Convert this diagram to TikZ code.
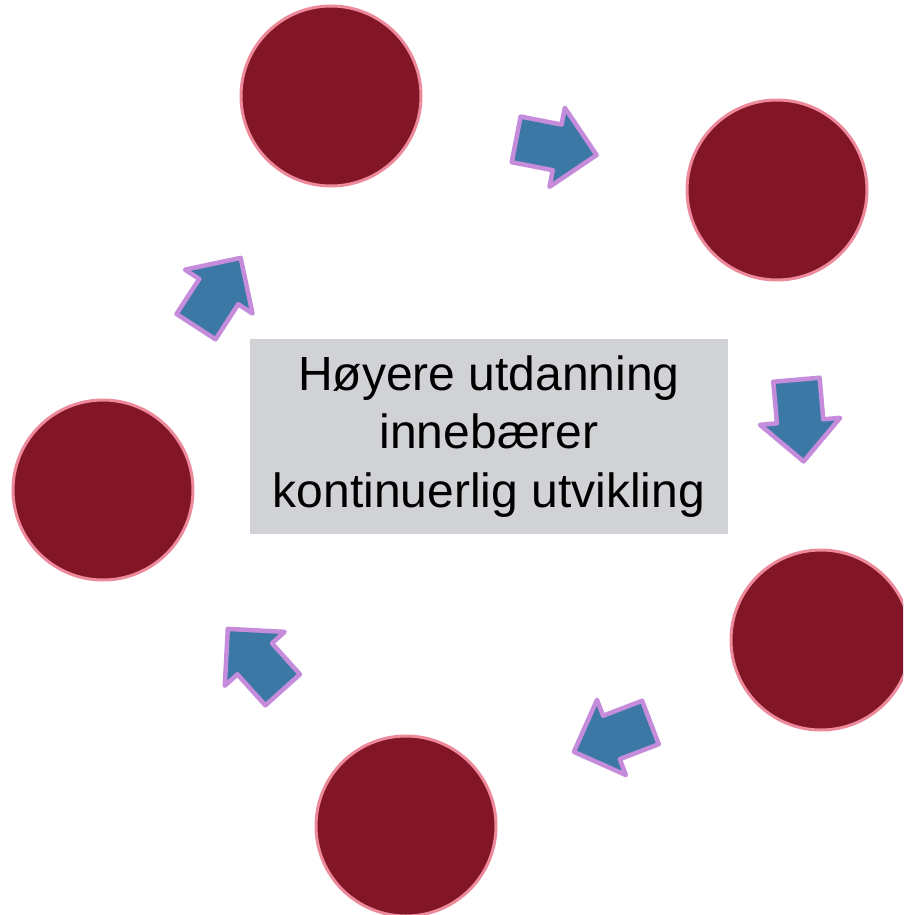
\documentclass[tikz,border=0pt]{standalone}
\usepackage{fontspec}
\setmainfont{Liberation Sans}
\usetikzlibrary{shapes.arrows}
\definecolor{stagered}{RGB}{131,22,38}
\definecolor{stagerim}{RGB}{236,138,155}
\definecolor{turnblue}{RGB}{60,120,165}
\definecolor{turnrim}{RGB}{198,140,220}
\definecolor{boxgray}{RGB}{209,210,214}
\tikzset{
  stage/.style={circle,fill=stagered,draw=stagerim,line width=3pt,
    inner sep=0pt,minimum size=180pt},
  turn/.style={single arrow,fill=turnblue,draw=turnrim,line width=4.5pt,
    line join=round,inner xsep=0pt,inner ysep=21pt,minimum height=82pt,
    single arrow head extend=17pt,single arrow tip angle=90},
}
\begin{document}
\begin{tikzpicture}[x=1pt,y=-1pt]
      \clip (0,0) rectangle (903,915);
      \draw
        (331,96) node[stage] (s1){}
        (777,190) node[stage] (s2){}
        (821,640) node[stage] (s3){}
        (406,826) node[stage] (s4){}
        (103,490) node[stage] (s5){};
      \begin{scope}[every node/.style={turn}]
        \node[rotate=-11] (t1) at (545,145) {};
        \node[rotate=-85] (t2) at (799,409) {};
        \node[rotate=-159] (t3) at (623,733) {};
        \node[rotate=132] (t4) at (263,668) {};
        \node[rotate=57] (t5) at (212,302) {};
      \end{scope}
      \node[fill=boxgray,minimum width=478pt,minimum height=195pt,
        align=center,font=\fontsize{48}{58.5}\selectfont] (core) at (489,436.5)
        {Høyere utdanning\\innebærer\\kontinuerlig utvikling};
    \end{tikzpicture}
\end{document}
